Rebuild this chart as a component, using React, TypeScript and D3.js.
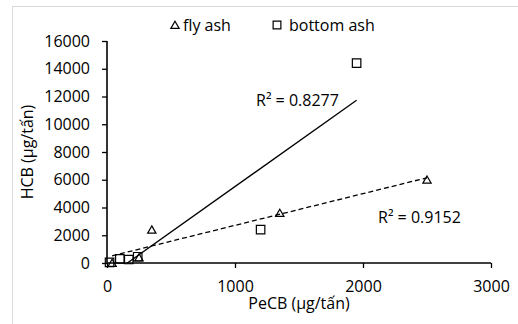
import React, { useEffect, useRef } from 'react';
import * as d3 from 'd3';

// fly ash samples (PeCB, HCB) in µg/tấn
const flyAshX = [40, 250, 350, 1350, 2500];
const flyAshY = [0, 400, 2400, 3600, 6000];

// bottom ash samples
const bottomAshX = [20, 100, 170, 240, 1200, 1950];
const bottomAshY = [50, 300, 250, 450, 2400, 14400];

const xTicks = [0, 1000, 2000, 3000];
const yTicks = [0, 2000, 4000, 6000, 8000, 10000, 12000, 14000, 16000];
const seriesNames = ['fly ash', 'bottom ash'];
const r2Labels = ['R² = 0.9152', 'R² = 0.8277'];

const W = 518;
const H = 324;
const FONT = '"Open Sans", sans-serif';
const FS = 16;

// least squares fit, like an Excel linear trendline
const fit = (xs: number[], ys: number[]) => {
  const mx = d3.mean(xs)!;
  const my = d3.mean(ys)!;
  let sxy = 0;
  let sxx = 0;
  xs.forEach((x, i) => {
    sxy += (x - mx) * (ys[i] - my);
    sxx += (x - mx) * (x - mx);
  });
  const slope = sxy / sxx;
  return { slope, intercept: my - slope * mx };
};

const App = () => {
  const svgRef = useRef<SVGSVGElement>(null);

  useEffect(() => {
    const svg = d3.select(svgRef.current);
    svg.selectAll('*').remove();

    const margin = { top: 41, right: 27, bottom: 61, left: 107 };
    const x = d3.scaleLinear().domain([0, 3000]).range([margin.left, W - margin.right]);
    const y = d3.scaleLinear().domain([0, 16000]).range([H - margin.bottom, margin.top]);

    // outer chart border (only top/left visible)
    svg.append('rect')
      .attr('x', 12.5).attr('y', 6.5)
      .attr('width', W).attr('height', H)
      .attr('fill', '#fff')
      .attr('stroke', '#d9d9d9');

    svg.append('clipPath').attr('id', 'plot-clip')
      .append('rect')
      .attr('x', x(0)).attr('y', y(16000))
      .attr('width', x(3000) - x(0)).attr('height', y(0) - y(16000));

    // trendlines
    const lines = [
      { xs: flyAshX, ys: flyAshY, dash: '5,3' },
      { xs: bottomAshX, ys: bottomAshY, dash: null }
    ];
    lines.forEach(l => {
      const { slope, intercept } = fit(l.xs, l.ys);
      const x0 = d3.min(l.xs)!;
      const x1 = d3.max(l.xs)!;
      svg.append('line')
        .attr('clip-path', 'url(#plot-clip)')
        .attr('x1', x(x0)).attr('y1', y(slope * x0 + intercept))
        .attr('x2', x(x1)).attr('y2', y(slope * x1 + intercept))
        .attr('stroke', '#000')
        .attr('stroke-width', 1.3)
        .attr('stroke-dasharray', l.dash);
    });

    // axes
    const yAxis = svg.append('g')
      .attr('transform', `translate(${x(0)},0)`)
      .call(d3.axisLeft(y).tickValues(yTicks).tickSize(5).tickPadding(12).tickFormat(d3.format('d')));
    const xAxis = svg.append('g')
      .attr('transform', `translate(0,${y(0)})`)
      .call(d3.axisBottom(x).tickValues(xTicks).tickSize(5).tickPadding(9).tickFormat(d3.format('d')));
    [yAxis, xAxis].forEach(a => {
      a.select('.domain').attr('stroke-width', 1.6);
      a.selectAll('line').attr('stroke-width', 1.3);
      a.selectAll('text')
        .attr('font-family', FONT)
        .attr('font-size', FS)
        .attr('fill', '#000');
    });
    xAxis.select('.domain').attr('d', `M${x(0)},0H${x(3000)}`);
    yAxis.select('.domain').attr('d', `M0,${y(16000)}V${y(0)}`);
    xAxis.selectAll('.tick text').attr('dy', '0.95em');

    // markers
    const tri = d3.symbol().type(d3.symbolTriangle).size(30);
    const sq = d3.symbol().type(d3.symbolSquare).size(72);
    const marks = svg.append('g').attr('fill', 'none').attr('stroke', '#000').attr('stroke-width', 1.2);
    bottomAshX.forEach((v, i) => {
      marks.append('path')
        .attr('d', sq()!)
        .attr('transform', `translate(${x(v)},${y(bottomAshY[i])})`);
    });
    flyAshX.forEach((v, i) => {
      marks.append('path')
        .attr('d', tri()!)
        .attr('transform', `translate(${x(v)},${y(flyAshY[i]) + 1})`);
    });

    // legend
    const legend = svg.append('g').attr('font-family', FONT).attr('font-size', FS);
    legend.append('path').attr('d', tri()!)
      .attr('transform', 'translate(175,26)')
      .attr('fill', 'none').attr('stroke', '#000').attr('stroke-width', 1.2);
    legend.append('text').attr('x', 183).attr('y', 31).text(seriesNames[0]);
    legend.append('path').attr('d', d3.symbol().type(d3.symbolSquare).size(60)()!)
      .attr('transform', 'translate(277,25)')
      .attr('fill', 'none').attr('stroke', '#000').attr('stroke-width', 1.2);
    legend.append('text').attr('x', 289).attr('y', 31).text(seriesNames[1]);

    // R² labels
    const lab = svg.append('g').attr('font-family', FONT).attr('font-size', FS);
    lab.append('text').attr('x', 378).attr('y', 223).text(r2Labels[0]);
    lab.append('text').attr('x', 256).attr('y', 106).text(r2Labels[1]);

    // axis titles
    svg.append('text')
      .attr('x', (x(0) + x(3000)) / 2).attr('y', 309)
      .attr('text-anchor', 'middle')
      .attr('font-family', FONT).attr('font-size', FS)
      .text('PeCB (µg/tấn)');
    svg.append('text')
      .attr('transform', `translate(33,${(y(0) + y(16000)) / 2}) rotate(-90)`)
      .attr('text-anchor', 'middle')
      .attr('font-family', FONT).attr('font-size', FS)
      .text('HCB (µg/tấn)');
  }, []);

  return (
    <div style={{ position: 'fixed', left: 0, top: 0, background: '#fff' }}>
      <svg ref={svgRef} width={W} height={H} style={{ display: 'block' }} />
    </div>
  );
};

export default App;
